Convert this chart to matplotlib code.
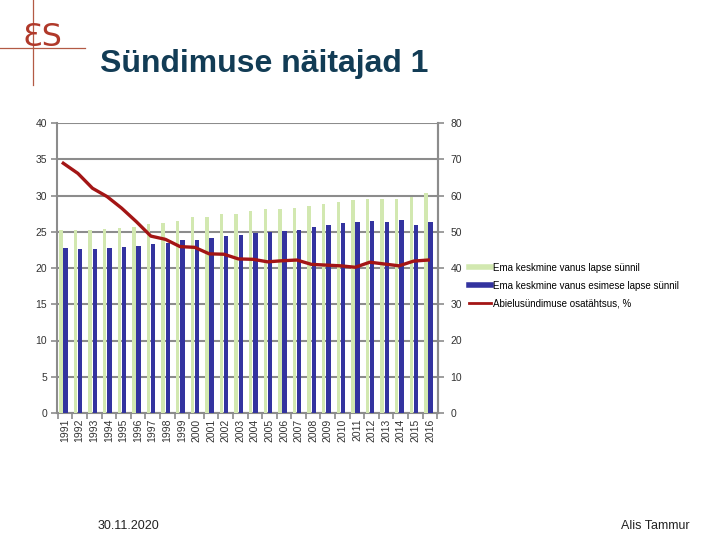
import matplotlib
matplotlib.use("Agg")
import matplotlib.pyplot as plt
import numpy as np
from matplotlib.lines import Line2D

plt.rcParams['font.family'] = ['Liberation Sans', 'DejaVu Sans']

years = [str(y) for y in range(1991, 2017)]
age_all = [25.2, 25.25, 25.25, 25.35, 25.5, 25.7, 26.1, 26.25, 26.5, 27.0, 27.1, 27.5, 27.5,
           27.8, 28.1, 28.1, 28.3, 28.55, 28.8, 29.15, 29.4, 29.5, 29.5, 29.5, 29.8, 30.3]
age_first = [22.7, 22.6, 22.6, 22.8, 22.9, 23.0, 23.25, 23.5, 23.8, 23.9, 24.2, 24.4, 24.55,
             24.85, 25.0, 25.1, 25.2, 25.7, 25.9, 26.25, 26.4, 26.5, 26.3, 26.65, 25.9, 26.4]
marital_share = [68.9, 66.1, 62.0, 59.7, 56.5, 52.8, 48.8, 47.9, 45.9, 45.7, 43.9, 43.8, 42.5,
                 42.4, 41.7, 42.0, 42.2, 41.0, 40.8, 40.6, 40.2, 41.6, 41.1, 40.6, 41.9, 42.2]
labels = ["Ema keskmine vanus lapse sünnil",
          "Ema keskmine vanus esimese lapse sünnil",
          "Abielusündimuse osatähtsus, %"]

GREEN = '#d2e8b0'
BLUE = '#33339f'
RED = '#a31515'
GRID = '#8c8c8c'

fig = plt.figure(figsize=(7.2, 5.4), dpi=100)
ax = fig.add_axes([57/720, 1-413/540, 381/720, 290/540])
x = np.arange(len(years))
ax.bar(x - 0.28, age_all, width=0.24, color=GREEN, zorder=3)
ax.bar(x + 0.04, age_first, width=0.3, color=BLUE, zorder=3)
ax.set_xlim(-0.55, len(years) - 0.45)
ax.set_ylim(0, 40)
ax.set_yticks(range(0, 41, 5))
ax.yaxis.grid(True, color=GRID, lw=1.5, zorder=0)
ax.set_axisbelow(True)
ax.set_xticks(x)
ax.set_xticklabels(years, rotation=90, fontsize=7.5, color='#333333')
ax.set_xticks(np.arange(-0.5, len(years)), minor=True)
ax.tick_params(axis='x', which='major', length=0, pad=4)
ax.tick_params(axis='x', which='minor', length=4, color=GRID, width=1.2)
ax.tick_params(axis='y', labelsize=7.5, length=4, color=GRID, width=1.2, pad=3, labelcolor='#333333')
for s in ['top']:
    ax.spines[s].set_visible(False)
for s in ['left', 'right', 'bottom']:
    ax.spines[s].set_color(GRID)
    ax.spines[s].set_linewidth(1.5)

ax2 = ax.twinx()
ax2.plot(x - 0.12, marital_share, color=RED, lw=2.4, zorder=5)
ax2.set_ylim(0, 80)
ax2.set_yticks(range(0, 81, 10))
ax2.tick_params(axis='y', labelsize=7.5, length=4, color=GRID, width=1.2, pad=5, labelcolor='#333333')
for s in ['top', 'left', 'bottom']:
    ax2.spines[s].set_visible(False)
ax2.spines['right'].set_color(GRID)
ax2.spines['right'].set_linewidth(1.5)

handles = [Line2D([], [], color=GREEN, lw=4),
           Line2D([], [], color=BLUE, lw=4),
           Line2D([], [], color=RED, lw=2)]
fig.legend(handles, labels, loc='upper left', bbox_to_anchor=(460/720, 1-254/540),
           frameon=False, fontsize=7, handlelength=2.3, handletextpad=0.15,
           labelspacing=0.8)

fig.text(100/720, 1-64/540, "Sündimuse näitajad 1", fontsize=23, fontweight='bold',
         color='#123c55', va='center', ha='left')

# logo
fig.add_artist(Line2D([33/720, 33/720], [1-85/540, 1.0], color='#b35a45', lw=0.9))
fig.add_artist(Line2D([0, 85/720], [1-48/540, 1-48/540], color='#b35a45', lw=0.9))
fig.text(42/720, 1-37/540, "ƐS", fontsize=23, color='#b0392a', ha='center', va='center',
         family=['DejaVu Sans'])

fig.text(128/720, 1-526/540, "30.11.2020", fontsize=9, ha='center', va='center', color='#222222')
fig.text(655/720, 1-526/540, "Alis Tammur", fontsize=9, ha='center', va='center', color='#222222')

fig.savefig("out.png", dpi=100)
